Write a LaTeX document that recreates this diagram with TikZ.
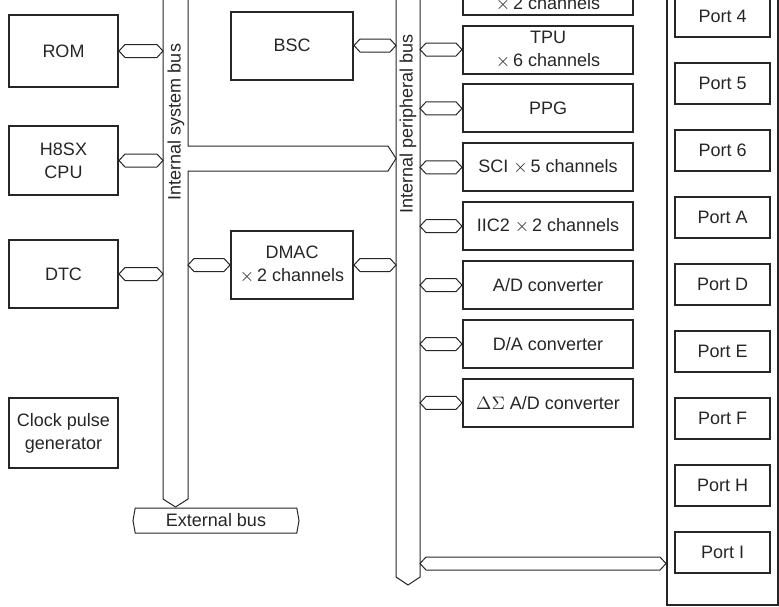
\documentclass[tikz,border=0pt]{standalone}
\usepackage{fontspec}
\setmainfont{Liberation Sans}
\usetikzlibrary{positioning,calc,shapes.symbols}

% double-ended bus connector, left end first
\newcommand{\buslink}[2]{%
  \draw[link] let \p1=(#1), \p2=(#2) in
    (\x1,\y1) -- (\x1+3pt,\y1+3.25pt) -- (\x2-3pt,\y1+3.25pt) -- (\x2,\y1)
    -- (\x2-3pt,\y1-3.25pt) -- (\x1+3pt,\y1-3.25pt) -- cycle;}

\begin{document}
\begin{tikzpicture}[
    x=0.5pt, y=-0.5pt,
    font=\fontsize{9}{11.5}\selectfont,
    blk/.style={draw=black!85, line width=1pt, align=center, inner sep=1pt, text=black!85},
    modul/.style={blk, minimum width=54.5pt},
    ctrl/.style={blk, minimum width=61pt, minimum height=34pt},
    periph/.style={blk, minimum width=85pt, minimum height=24pt},
    portbox/.style={blk, minimum width=47.5pt, minimum height=20.5pt},
    bus/.style={draw=black!85, line width=0.5pt},
    link/.style={draw=black!85, line width=0.5pt},
    buslbl/.style={rotate=90, text=black!85}
  ]
    \useasboundingbox (0,0) rectangle (779,606);
    \clip (0,0) rectangle (779,606);

    % Busses
    \draw[bus] (163,-10) -- (163,499) -- (175.5,507) -- (188,499) -- (188,171)
      -- (388,171) -- (396,158.5) -- (388,146) -- (188,146) -- (188,-10);
    \node[buslbl] (sysbus) at (176,122) {Internal system bus};
    \draw[bus] (396,-10) -- (396,577) -- (408,585) -- (420,577) -- (420,-10);
    \node[buslbl] (perbus) at (408,124) {Internal peripheral bus};
    \coordinate (sysL) at (163,0);
    \coordinate (sysR) at (188,0);
    \coordinate (perL) at (396,0);
    \coordinate (perR) at (420,0);

    \node[signal, signal to=west and east, signal pointer angle=160, draw=black!85,
      line width=0.5pt, minimum width=83pt, minimum height=12.5pt, inner sep=0pt,
      text=black!85] (extbus) at (216,520.5) {External bus};

    % Left column
    \node[modul, minimum height=36pt] (rom) at (63.5,51) {ROM};
    \node[modul, minimum height=34.5pt] (cpu) at (63.5,160.5) {H8SX\\CPU};
    \node[modul, minimum height=34pt] (dtc) at (63.5,274) {DTC};
    \node[modul, minimum height=35pt] (cpg) at (63.5,433) {Clock pulse\\generator};

    % Middle
    \node[ctrl] (bsc) at (292,45.5) {BSC};
    \node[ctrl] (dmac) at (292,265) {DMAC\\$\times$\,2 channels};

    % Peripherals
    \node[periph] (tpu) at (548,49.5) {TPU\\$\times$\,6 channels};
    \node[periph, above=4.45pt of tpu] (exdmac) {\strut\\$\times$\,2 channels};
    \node[periph, below=4.45pt of tpu] (ppg) {PPG};
    \node[periph, below=4.45pt of ppg] (sci) {SCI $\times$\,5 channels};
    \node[periph, below=4.45pt of sci] (iic) {IIC2 $\times$\,2 channels};
    \node[periph, below=4.45pt of iic] (adc) {A/D converter};
    \node[periph, below=4.45pt of adc] (dac) {D/A converter};
    \node[periph, below=4.45pt of dac] (dsadc) {$\Delta\Sigma$ A/D converter};

    % Ports
    \node[blk, minimum width=55.5pt, minimum height=312.5pt] (ports) at (722.5,292.5) {};
    \node[portbox] (p4) at (722.5,16) {Port 4};
    \node[portbox, below=12pt of p4] (p5) {Port 5};
    \node[portbox, below=12pt of p5] (p6) {Port 6};
    \node[portbox, below=12pt of p6] (pA) {Port A};
    \node[portbox, below=12pt of pA] (pD) {Port D};
    \node[portbox, below=12pt of pD] (pE) {Port E};
    \node[portbox, below=12pt of pE] (pF) {Port F};
    \node[portbox, below=12pt of pF] (pH) {Port H};
    \node[portbox, below=12pt of pH] (pI) {Port I};

    % Connections
    \buslink{rom.east}{rom.east -| sysL}
    \buslink{cpu.east}{cpu.east -| sysL}
    \buslink{dtc.east}{dtc.east -| sysL}
    \buslink{dmac.west -| sysR}{dmac.west}
    \buslink{dmac.east}{dmac.east -| perL}
    \buslink{bsc.east}{bsc.east -| perL}
    \buslink{tpu.west -| perR}{tpu.west}
    \buslink{ppg.west -| perR}{ppg.west}
    \buslink{sci.west -| perR}{sci.west}
    \buslink{iic.west -| perR}{iic.west}
    \buslink{adc.west -| perR}{adc.west}
    \buslink{dac.west -| perR}{dac.west}
    \buslink{dsadc.west -| perR}{dsadc.west}
    \coordinate (ioy) at (0,563.5);
    \buslink{perR |- ioy}{ports.west |- ioy}
\end{tikzpicture}
\end{document}
